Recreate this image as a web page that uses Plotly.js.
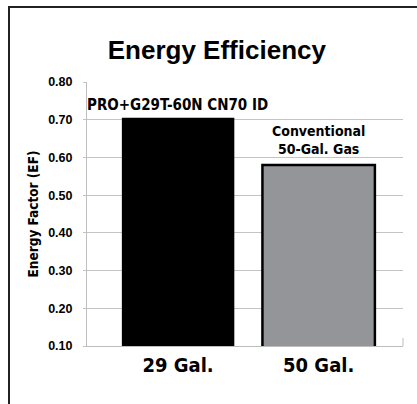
<!DOCTYPE html>
<html>
<head>
<meta charset="utf-8">
<script src="https://cdn.plot.ly/plotly-3.0.1.min.js"></script>
<style>
html,body{margin:0;padding:0;background:#fff;}
#wrap{position:relative;width:417px;height:404px;overflow:hidden;}
#frame{position:absolute;left:8px;top:6px;width:420px;height:420px;border-top:2px solid #222;border-left:2px solid #222;pointer-events:none;}
#chart{position:absolute;left:0;top:0;width:417px;height:404px;}
</style>
</head>
<body>
<div id="wrap"><div id="chart"></div><div id="frame"></div></div>
<script>
var categories = ["29 Gal.", "50 Gal."];
var efValues = [0.705, 0.58];
var barLabels = ["PRO+G29T-60N CN70 ID", "Conventional<br>50-Gal. Gas"];
var yTickVals = [0.1, 0.2, 0.3, 0.4, 0.5, 0.6, 0.7, 0.8];
var yTickText = ["0.10", "0.20", "0.30", "0.40", "0.50", "0.60", "0.70", "0.80"];

var COND = '"Liberation Sans Narrow", "DejaVu Sans Condensed", "Roboto Condensed", Arial, sans-serif';
var SANS = '"Liberation Sans", Arial, sans-serif';

var trace = {
  type: 'bar',
  x: categories,
  y: efValues,
  width: 0.8,
  marker: {
    color: ['#000000', '#939598'],
    line: {color: ['#000000', '#000000'], width: [0, 2.5]}
  },
  hoverinfo: 'none'
};

var layout = {
  width: 417, height: 404,
  margin: {l: 87, r: 14, t: 82, b: 58},
  paper_bgcolor: '#ffffff',
  plot_bgcolor: '#ffffff',
  showlegend: false,
  title: {
    text: 'Energy Efficiency',
    font: {family: SANS, size: 26, color: '#000', weight: 'bold'},
    x: 0.52, xanchor: 'center', xref: 'container',
    y: 0.876, yanchor: 'middle', yref: 'container'
  },
  xaxis: {
    type: 'category',
    range: [-0.648, 1.6],
    showgrid: false,
    showline: true, linecolor: '#bdbdbd', linewidth: 1,
    ticks: 'outside', ticklen: 1, tickcolor: 'rgba(0,0,0,0)',
    tickfont: {family: COND, size: 20, color: '#000', weight: 'bold'},
    zeroline: false, fixedrange: true
  },
  yaxis: {
    range: [0.1, 0.8],
    tickvals: yTickVals,
    ticktext: yTickText,
    showgrid: true, gridcolor: '#c4c4c4', gridwidth: 1,
    showline: true, linecolor: '#bdbdbd', linewidth: 1,
    ticks: 'outside', ticklen: 3, tickcolor: '#c4c4c4', tickwidth: 1,
    ticklabelstandoff: 8,
    tickfont: {family: SANS, size: 12.5, color: '#000', weight: 'bold'},
    zeroline: false, fixedrange: true,
    title: {
      text: 'Energy Factor (EF)',
      font: {family: COND, size: 13.5, color: '#000', weight: 'bold'},
      standoff: 6
    }
  },
  shapes: [
    {type: 'line', xref: 'paper', yref: 'paper', x0: 1, x1: 1, y0: 0, y1: 0.03,
     line: {color: '#bdbdbd', width: 1}}
  ],
  annotations: [
    {x: categories[0], y: 0.74, xref: 'x', yref: 'y', text: barLabels[0],
     showarrow: false, xanchor: 'center', yanchor: 'middle', xshift: -1,
     font: {family: COND, size: 15, color: '#000', weight: 'bold'}},
    {x: categories[1], y: 0.645, xref: 'x', yref: 'y', text: barLabels[1],
     showarrow: false, xanchor: 'center', yanchor: 'middle',
     font: {family: COND, size: 14, color: '#000', weight: 'bold'}}
  ]
};

Plotly.newPlot('chart', [trace], layout, {staticPlot: true, displayModeBar: false});
</script>
</body>
</html>
